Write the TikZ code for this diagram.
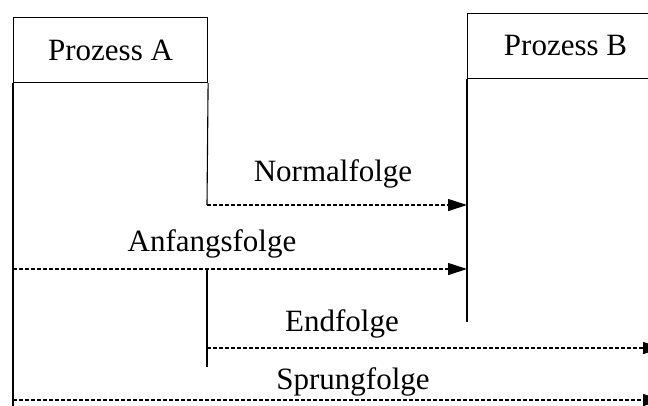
\documentclass[tikz,border=0pt]{standalone}
\usepackage{fontspec}
\setmainfont{Liberation Serif}
\usetikzlibrary{arrows.meta}
\begin{document}
\begin{tikzpicture}[x=1pt,y=-1pt,
  lbl/.style={font=\fontsize{31}{36}\selectfont, inner sep=0pt, anchor=base},
  proc/.style={draw, line width=1.1pt, minimum width=194pt, minimum height=65pt,
    inner sep=0pt, anchor=north west, font=\fontsize{31}{36}\selectfont},
  life/.style={line width=1.1pt},
  msg/.style={line width=1.1pt, dash pattern=on 4pt off 2pt,
    -{Triangle[length=19pt,width=12pt]}}]
  \clip (0,0) rectangle (648,405);
  \useasboundingbox (0,0) rectangle (648,405);

  % process heads
  \node[proc] (A) at (13,17) {Prozess A};
  \node[proc, minimum width=196pt, minimum height=65.5pt] (B) at (467,12.5) {Prozess B};

  % lifeline end points and message anchors
  \coordinate (Aend) at (13,410);
  \coordinate (An) at (207,205);
  \coordinate (Bn) at (467,205);
  \coordinate (Bend) at (467,322);
  \coordinate (Aa) at (13,269);
  \coordinate (Ba) at (467,269);
  \coordinate (Eup) at (207,269);
  \coordinate (Elow) at (207,367);
  \coordinate (Ee) at (207,348);
  \coordinate (Xe) at (662,348);
  \coordinate (As) at (13,400);
  \coordinate (Xs) at (662,400);

  % lifelines
  \draw[life] (A.south west) -- (Aend);
  \draw[life] (A.south east) -- (An);
  \draw[life] (B.south west) -- (Bend);
  \draw[life] (Eup) -- (Elow);

  % messages
  \draw[msg] (An) -- (Bn);
  \draw[msg] (Aa) -- (Ba);
  \draw[msg] (Ee) -- (Xe);
  \draw[msg] (As) -- (Xs);

  % message labels
  \node[lbl] (ln) at (333,181) {Normalfolge};
  \node[lbl] (la) at (212,251) {Anfangsfolge};
  \node[lbl] (le) at (342,331) {Endfolge};
  \node[lbl] (ls) at (353,389) {Sprungfolge};
\end{tikzpicture}
\end{document}
